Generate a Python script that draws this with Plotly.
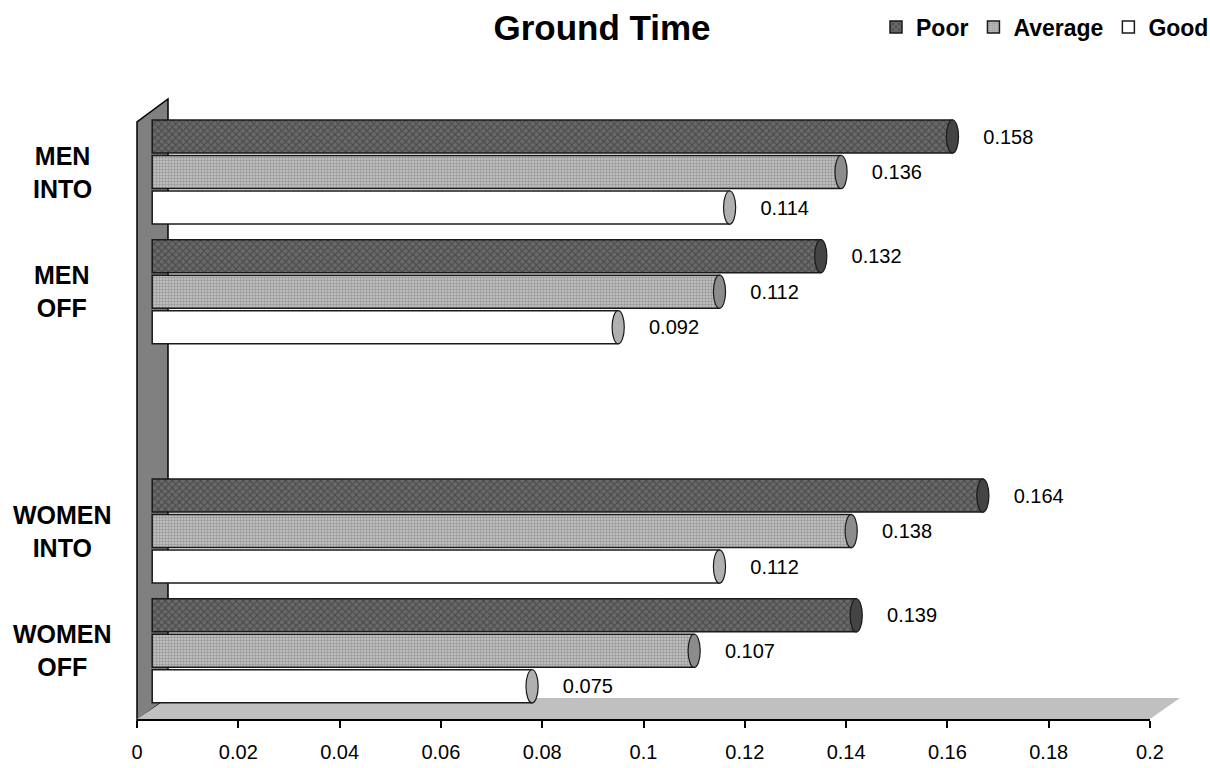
import plotly.graph_objects as go

# ---------------- data ----------------
categories = ["MEN<br>INTO", "MEN<br>OFF", None, "WOMEN<br>INTO", "WOMEN<br>OFF"]  # None = empty slot
series_names = ["Poor", "Average", "Good"]
poor = [0.158, 0.132, None, 0.164, 0.139]
average = [0.136, 0.112, None, 0.138, 0.107]
good = [0.114, 0.092, None, 0.112, 0.075]
x_ticks = [0, 0.02, 0.04, 0.06, 0.08, 0.1, 0.12, 0.14, 0.16, 0.18, 0.2]

series_values = [poor, average, good]

# ---------------- styles ----------------
FONT = "Liberation Sans, Arial, sans-serif"
W, H = 1210, 768
ML, MR, MT, MB = 137, 60, 99, 49
PW, PH = W - ML - MR, H - MT - MB
BARGAP, GROUPGAP = 0.11, 0.07
DEPTH = 0.003  # 3-D depth shift of bars behind the front axis plane

styles = [
    dict(color="#666666", pattern=dict(shape="x", bgcolor="#6a6a6a", fgcolor="#2a2a2a", size=5, solidity=0.4), cap="#444444"),
    dict(color="#c0c0c0", pattern=dict(shape=".", bgcolor="#c6c6c6", fgcolor="#6a6a6a", size=3, solidity=0.5), cap="#8c8c8c"),
    dict(color="#ffffff", pattern=dict(shape=""), cap="#b0b0b0"),
]

slots = [i for i, c in enumerate(categories) if c is not None]


def px(x, y):
    """pixel -> paper"""
    return (x - ML) / PW, (H - MB - y) / PH


def path(points):
    pts = [px(x, y) for x, y in points]
    return "M " + " L ".join(f"{a:.4f},{b:.4f}" for a, b in pts) + " Z"


fig = go.Figure()

# invisible trace so the front (labelled) axis subplot is created
fig.add_trace(go.Scatter(x=[0, 0.2], y=[None, None], mode="markers",
                         showlegend=False, hoverinfo="skip", xaxis="x", yaxis="y"))

for name, vals, st in zip(series_names, series_values, styles):
    xs = [vals[i] for i in slots]
    fig.add_trace(go.Bar(
        name=f"<b>{name}</b>",
        y=slots,
        x=xs,
        orientation="h",
        xaxis="x2",
        marker=dict(color=st["color"], pattern=st["pattern"],
                    line=dict(color="#1a1a1a", width=1.5)),
        texttemplate="\u00a0\u00a0\u00a0\u00a0\u00a0%{x}",
        textposition="outside",
        textfont=dict(family=FONT, size=20, color="black"),
        cliponaxis=False,
    ))

shapes = []
# side wall
shapes.append(dict(type="path", xref="paper", yref="paper", layer="below",
                   path=path([(137, 720), (137, 122), (168, 99), (168, 698)]),
                   fillcolor="#808080", line=dict(color="black", width=1.5)))
# floor
shapes.append(dict(type="path", xref="paper", yref="paper", layer="below",
                   path=path([(137, 719), (168, 698), (1180, 698), (1150, 719)]),
                   fillcolor="#c0c0c0", line=dict(color="#c0c0c0", width=0)))

# cylinder end caps
slot_w = (1 - BARGAP) / 3
thick = slot_w * (1 - GROUPGAP)
for k, (vals, st) in enumerate(zip(series_values, styles)):
    for s in slots:
        v = vals[s]
        yc = s + (k - 1) * slot_w
        shapes.append(dict(type="circle", xref="x2", yref="y", layer="above",
                           x0=v - 0.0012, x1=v + 0.0012,
                           y0=yc - thick / 2, y1=yc + thick / 2,
                           fillcolor=st["cap"], line=dict(color="#1a1a1a", width=1.2)))

annotations = []
for s in slots:
    annotations.append(dict(xref="paper", yref="y", x=(62 - ML) / PW, y=s,
                            text=f"<b>{categories[s]}</b>", showarrow=False,
                            xanchor="center", yanchor="middle", align="center",
                            font=dict(family=FONT, size=25, color="black")))

fig.update_layout(
    width=W, height=H,
    margin=dict(l=ML, r=MR, t=MT, b=MB, autoexpand=False),
    paper_bgcolor="white", plot_bgcolor="white",
    barmode="group", bargap=BARGAP, bargroupgap=GROUPGAP,
    title=dict(text="<b>Ground Time</b>", x=602 / W, xanchor="center",
               y=1 - 28 / H, yanchor="middle", yref="container",
               font=dict(family=FONT, size=35, color="black")),
    legend=dict(orientation="h", x=(1214 - ML) / PW, xanchor="right",
                y=(H - MB - 27) / PH, yanchor="middle",
                font=dict(family=FONT, size=23, color="black"),
                itemwidth=30, bgcolor="rgba(0,0,0,0)", traceorder="normal"),
    xaxis=dict(range=[0, 0.2], tickvals=x_ticks, ticktext=[f"{t:g}" for t in x_ticks],
               showgrid=False, zeroline=False, automargin=False,
               showline=True, linecolor="black", linewidth=2,
               ticks="outside", ticklen=7, tickwidth=2, tickcolor="black",
               ticklabelstandoff=7,
               tickfont=dict(family=FONT, size=20, color="black")),
    xaxis2=dict(range=[-DEPTH, 0.2 - DEPTH], overlaying="x", anchor="y", visible=False),
    yaxis=dict(range=[4.57, -0.61], visible=False, showgrid=False, zeroline=False,
               automargin=False),
    shapes=shapes,
    annotations=annotations,
)

fig.write_html("out.html")
